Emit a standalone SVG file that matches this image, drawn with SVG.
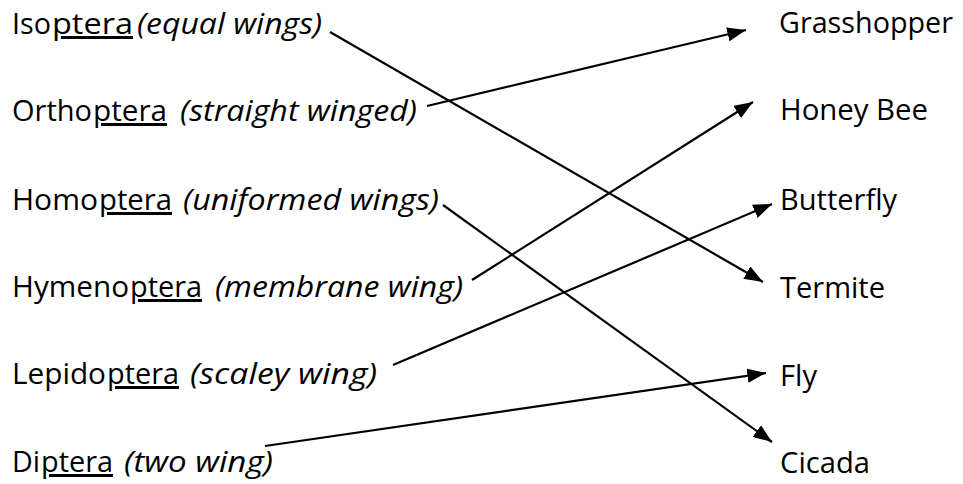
<svg xmlns="http://www.w3.org/2000/svg" width="963" height="484" viewBox="0 0 963 484">
<style>
text{font-family:"Open Sans","Noto Sans","DejaVu Sans",sans-serif;font-size:30px;fill:#000}
.i{font-style:italic}
.u{text-decoration:underline}
.c{stroke:#000;stroke-width:2.2;fill:none;marker-end:url(#ah)}
</style>
<defs>
<marker id="ah" markerWidth="8.5" markerHeight="6.5" refX="8.5" refY="3.25" orient="auto" markerUnits="strokeWidth">
<path d="M0,0 L8.5,3.25 L0,6.5 Z" fill="#000"/>
</marker>
</defs>
<rect width="963" height="484" fill="#fff"/>
<g id="left-isoptera">
<text x="12" y="34" textLength="39" lengthAdjust="spacingAndGlyphs">Iso</text>
<text class="u" x="52" y="34" textLength="81" lengthAdjust="spacingAndGlyphs">ptera </text>
<text class="i" x="137" y="34" textLength="185" lengthAdjust="spacingAndGlyphs">(equal wings)</text>
</g>
<g id="left-orthoptera">
<text x="12" y="121" textLength="80" lengthAdjust="spacingAndGlyphs">Ortho</text>
<text class="u" x="93" y="121" textLength="74" lengthAdjust="spacingAndGlyphs">ptera</text>
<text class="i" x="180" y="121" textLength="237" lengthAdjust="spacingAndGlyphs">(straight winged)</text>
</g>
<g id="left-homoptera">
<text x="12" y="210" textLength="86" lengthAdjust="spacingAndGlyphs">Homo</text>
<text class="u" x="99" y="210" textLength="73" lengthAdjust="spacingAndGlyphs">ptera</text>
<text class="i" x="183" y="210" textLength="256" lengthAdjust="spacingAndGlyphs">(uniformed wings)</text>
</g>
<g id="left-hymenoptera">
<text x="12" y="297" textLength="117" lengthAdjust="spacingAndGlyphs">Hymeno</text>
<text class="u" x="130" y="297" textLength="72" lengthAdjust="spacingAndGlyphs">ptera</text>
<text class="i" x="215" y="297" textLength="248" lengthAdjust="spacingAndGlyphs">(membrane wing)</text>
</g>
<g id="left-lepidoptera">
<text x="12" y="384" textLength="94" lengthAdjust="spacingAndGlyphs">Lepido</text>
<text class="u" x="107" y="384" textLength="72" lengthAdjust="spacingAndGlyphs">ptera</text>
<text class="i" x="190" y="384" textLength="187" lengthAdjust="spacingAndGlyphs">(scaley wing)</text>
</g>
<g id="left-diptera">
<text x="12" y="472" textLength="28" lengthAdjust="spacingAndGlyphs">Di</text>
<text class="u" x="41" y="472" textLength="72" lengthAdjust="spacingAndGlyphs">ptera</text>
<text class="i" x="124" y="472" textLength="149" lengthAdjust="spacingAndGlyphs">(two wing)</text>
</g>
<g id="right-grasshopper"><text x="779" y="33" textLength="174" lengthAdjust="spacingAndGlyphs">Grasshopper</text></g>
<g id="right-honeybee"><text x="780" y="120" textLength="148" lengthAdjust="spacingAndGlyphs">Honey Bee</text></g>
<g id="right-butterfly"><text x="780" y="210" textLength="117" lengthAdjust="spacingAndGlyphs">Butterfly</text></g>
<g id="right-termite"><text x="780" y="298" textLength="105" lengthAdjust="spacingAndGlyphs">Termite</text></g>
<g id="right-fly"><text x="780" y="386" textLength="37" lengthAdjust="spacingAndGlyphs">Fly</text></g>
<g id="right-cicada"><text x="780" y="473" textLength="90" lengthAdjust="spacingAndGlyphs">Cicada</text></g>
<g id="connectors">
<line class="c" x1="330" y1="32" x2="763" y2="282"/>
<line class="c" x1="427" y1="106" x2="746" y2="30"/>
<line class="c" x1="443" y1="205" x2="772" y2="442"/>
<line class="c" x1="472" y1="280" x2="753" y2="102"/>
<line class="c" x1="393" y1="365" x2="772" y2="204"/>
<line class="c" x1="265" y1="446" x2="766" y2="373"/>
</g>
</svg>
